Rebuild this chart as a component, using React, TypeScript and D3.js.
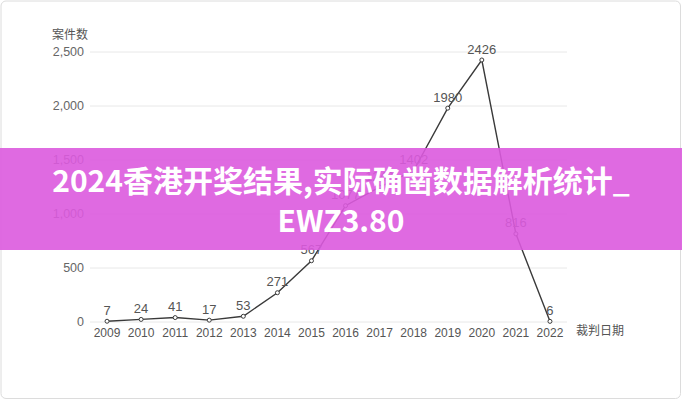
import React from "react";
import * as d3 from "d3";

const years = ["2009","2010","2011","2012","2013","2014","2015","2016","2017","2018","2019","2020","2021","2022"];
const cases = [7, 24, 41, 17, 53, 271, 567, 1077, 1249, 1402, 1980, 2426, 816, 6];
const yTicks = [0, 500, 1000, 1500, 2000, 2500];
const yTitle = "案件数";
const xTitle = "裁判日期";
const titleLines = ["2024香港开奖结果,实际确凿数据解析统计_", "EWZ3.80"];

const W = 682, H = 400;
const left = 90, right = 567, top = 52, bottom = 322;
const font = "'Liberation Sans', 'Noto Sans CJK SC', sans-serif";

export default function App() {
  const x = d3.scaleBand<string>().domain(years).range([left, right]).padding(0);
  const y = d3.scaleLinear().domain([0, 2500]).range([bottom, top]);
  const cx = (d: string) => (x(d) as number) + x.bandwidth() / 2;
  const line = d3.line<number>().x((_, i) => cx(years[i])).y((v) => y(v));
  const fmt = d3.format(",");
  return (
    <svg width={W} height={H} style={{ position: "absolute", left: 0, top: 0, background: "#fff" }}>
      <rect x={1} y={1} width={W - 2.5} height={H - 2.5} rx={5} fill="#fff" stroke="#dcdcdc" />
      {yTicks.map((t) => (
        <g key={t}>
          <line x1={left} x2={right} y1={y(t)} y2={y(t)} stroke="#e8e8e8" />
          <text x={84} y={y(t)} dy="0.35em" textAnchor="end" fontSize={12.5} fill="#666" fontFamily={font}>{fmt(t)}</text>
        </g>
      ))}
      <text x={70} y={35} dy="0.35em" textAnchor="middle" fontSize={12} fill="#555" fontFamily={font}>{yTitle}</text>
      {years.map((yr) => (
        <text key={yr} x={cx(yr)} y={333} dy="0.35em" textAnchor="middle" fontSize={12} fill="#555" fontFamily={font}>{yr}</text>
      ))}
      <text x={576} y={331} dy="0.35em" textAnchor="start" fontSize={12} fill="#555" fontFamily={font}>{xTitle}</text>
      <path d={line(cases) || ""} fill="none" stroke="#3a3a3a" strokeWidth={1.4} />
      {cases.map((v, i) => (
        <g key={i}>
          <circle cx={cx(years[i])} cy={y(v)} r={2} fill="#fff" stroke="#3a3a3a" strokeWidth={1} />
          <text x={cx(years[i])} y={y(v) - 11} dy="0.35em" textAnchor="middle" fontSize={13} fill="#555" fontFamily={font}>{v}</text>
        </g>
      ))}
      <rect x={0} y={148} width={W} height={102} fill="rgb(220,90,222)" fillOpacity={0.9} />
      {titleLines.map((t, i) => (
        <text key={i} x={W / 2} y={181 + i * 40} dy="0.35em" textAnchor="middle" fontSize={30} fontWeight="bold" fill="#fff" fontFamily="'Noto Sans CJK SC', sans-serif">{t}</text>
      ))}
    </svg>
  );
}
